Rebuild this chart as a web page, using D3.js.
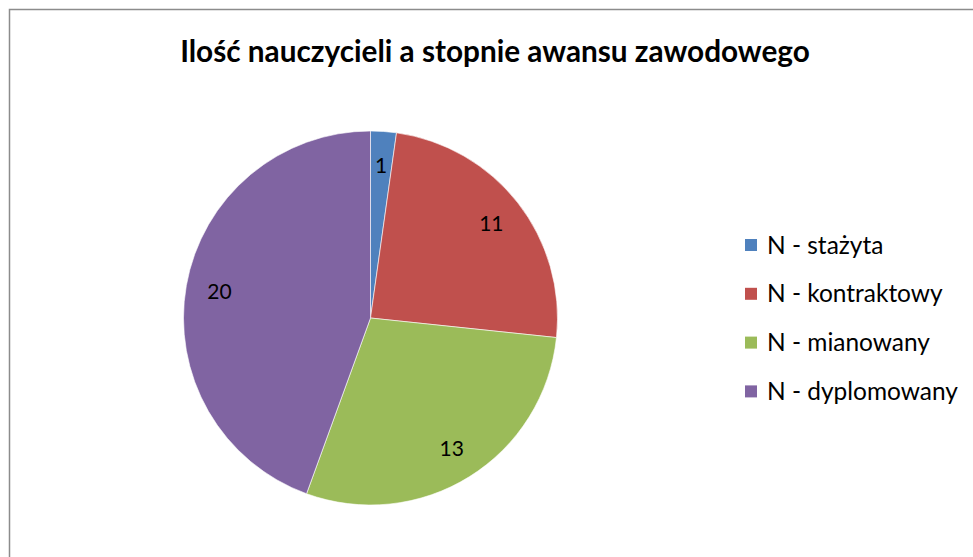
<!DOCTYPE html>
<html><head><meta charset="utf-8">
<script src="https://cdn.jsdelivr.net/npm/d3@7"></script>
<style>html,body{margin:0;padding:0;background:#fff;overflow:hidden}</style>
</head><body>
<script>
const title = "Ilość nauczycieli a stopnie awansu zawodowego";
const categories = ["N - stażyta", "N - kontraktowy", "N - mianowany", "N - dyplomowany"];
const values = [1, 11, 13, 20];
const colors = ["#4F81BD", "#C0504D", "#9BBB59", "#8064A2"];

const W = 973, H = 557;
const svg = d3.select("body").append("svg").attr("width", W).attr("height", H);
const FONT = "Lato, 'Open Sans', sans-serif";

// frame
svg.append("rect").attr("x", 9.5).attr("y", 9.5).attr("width", 1000).attr("height", 600)
  .attr("fill", "#fff").attr("stroke", "#8c8c8c").attr("stroke-width", 1.5);

// title
const t = svg.append("text").attr("x", 495).attr("y", 62).attr("text-anchor", "middle")
  .attr("font-family", FONT).attr("font-weight", "bold").attr("font-size", 24)
  .attr("fill", "#000").text(title);
const tw = t.node().getComputedTextLength();
t.attr("font-size", 24 * 630 / tw);

const cx = 370.5, cy = 318, R = 187;
const pie = d3.pie().sort(null).value(d => d)(values);
const arc = d3.arc().innerRadius(0).outerRadius(R);
const labelArc = d3.arc().innerRadius(R * 0.82).outerRadius(R * 0.82);
const g = svg.append("g").attr("transform", `translate(${cx},${cy})`);
g.selectAll("path").data(pie).join("path")
  .attr("d", arc).attr("fill", (d, i) => colors[i])
  .attr("stroke", "#fff").attr("stroke-width", 0.6);
g.selectAll("text").data(pie).join("text")
  .attr("transform", d => `translate(${labelArc.centroid(d)})`)
  .attr("text-anchor", "middle").attr("dy", "0.36em")
  .attr("font-family", FONT).attr("font-size", 21).attr("fill", "#000")
  .text(d => d.data);

// legend
const lg = svg.append("g");
const rows = lg.selectAll("g").data(categories).join("g")
  .attr("transform", (d, i) => `translate(745,${245 + i * 48.8})`);
rows.append("rect").attr("x", 0).attr("y", -6).attr("width", 12).attr("height", 12)
  .attr("fill", (d, i) => colors[i]);
const lt = rows.append("text").attr("x", 22).attr("dy", "0.35em")
  .attr("font-family", FONT).attr("font-size", 20).attr("fill", "#000").text(d => d);
const lw = lt.nodes()[3].getComputedTextLength();
lt.attr("font-size", 20 * 191 / lw);
</script>
</body></html>
